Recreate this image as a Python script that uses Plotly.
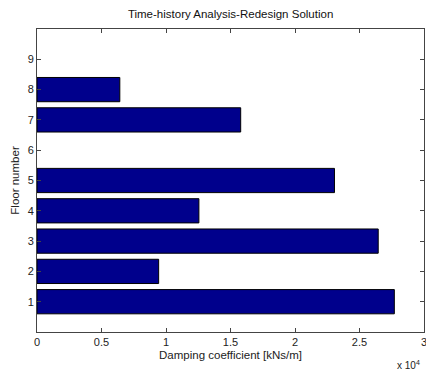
import plotly.graph_objects as go

floors = [1, 2, 3, 4, 5, 6, 7, 8, 9]
damping = [27700, 9430, 26450, 12550, 23060, 0, 15790, 6420, 0]
x_ticks = [0, 5000, 10000, 15000, 20000, 25000, 30000]
x_tick_text = ["0", "0.5", "1", "1.5", "2", "2.5", "3"]

FONT = "Liberation Sans, Arial, sans-serif"

# zero-valued floors get no outline so they leave no sliver at the axis
edge_widths = [1 if v > 0 else 0 for v in damping]

fig = go.Figure(
    go.Bar(
        x=damping,
        y=floors,
        orientation="h",
        width=0.8,
        marker=dict(color="rgb(0,0,140)", line=dict(color="black", width=edge_widths)),
    )
)

fig.update_layout(
    width=426,
    height=373,
    margin=dict(l=37, r=2, t=29, b=41, autoexpand=False),
    paper_bgcolor="white",
    plot_bgcolor="white",
    showlegend=False,
    font=dict(family=FONT, size=11, color="#222"),
    title=dict(
        text="Time-history Analysis-Redesign Solution",
        x=0.5413, xanchor="center", y=0.962, yanchor="middle",
        font=dict(family=FONT, size=11.5, color="#111"),
    ),
    xaxis=dict(
        range=[0, 30000],
        tickvals=x_ticks,
        ticktext=x_tick_text,
        ticks="inside",
        ticklen=4,
        tickcolor="#444",
        ticklabeloverflow="allow",
        automargin=False,
        showline=True,
        linecolor="#444",
        linewidth=1,
        mirror="ticks",
        showgrid=False,
        zeroline=False,
        title=dict(text="Damping coefficient [kNs/m]", standoff=3,
                   font=dict(family=FONT, size=11.5)),
    ),
    yaxis=dict(
        range=[0, 10],
        tickvals=floors,
        ticks="inside",
        ticklen=4,
        tickcolor="#444",
        automargin=False,
        showline=True,
        linecolor="#444",
        linewidth=1,
        mirror="ticks",
        showgrid=False,
        zeroline=False,
        title=dict(text="Floor number", standoff=5,
                   font=dict(family=FONT, size=11.5)),
    ),
    annotations=[
        dict(
            text="x 10<sup>4</sup>",
            xref="paper", yref="paper",
            x=1.0, y=0, xanchor="right", yanchor="top",
            xshift=-2, yshift=-25,
            showarrow=False,
            font=dict(family=FONT, size=10, color="#222"),
        )
    ],
)

fig.write_html("out.html")
